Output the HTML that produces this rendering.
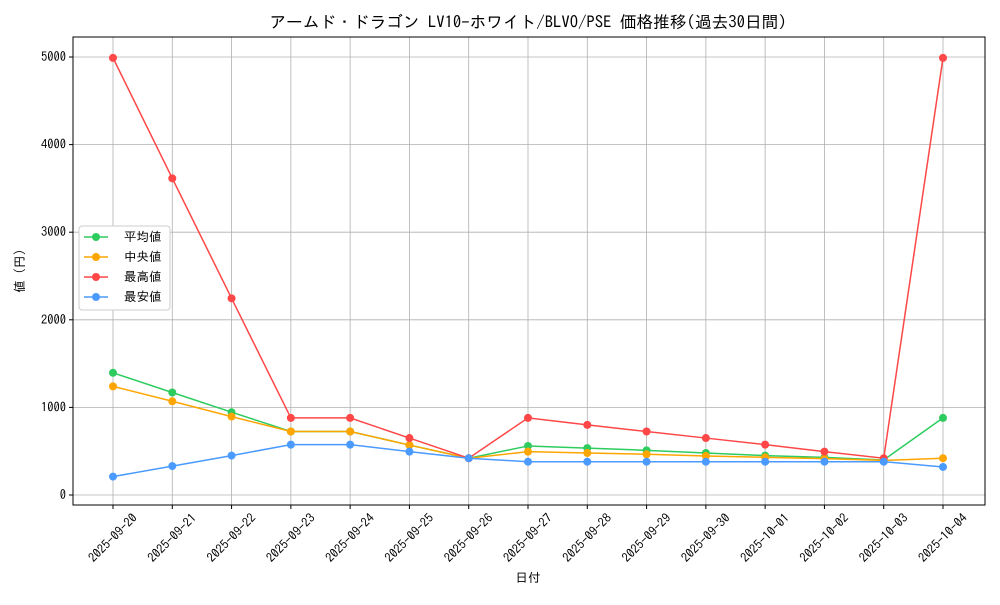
<!DOCTYPE html>
<html><head><meta charset="utf-8"><style>
body{margin:0;background:#fff;}
svg text{font-family:"IPAGothic","Liberation Sans","Noto Sans CJK JP",sans-serif;fill:#000;}
</style></head><body>
<svg width="1000" height="600" xmlns="http://www.w3.org/2000/svg">
<rect width="1000" height="600" fill="#fff"/>
<text x="528" y="28" font-size="16.7" text-anchor="middle">アームド・ドラゴン LV10-ホワイト/BLVO/PSE 価格推移(過去30日間)</text>
<g id="grid" stroke="#b0b0b0" stroke-width="0.8"></g>
<rect x="73" y="37" width="912" height="468" fill="none" stroke="#000" stroke-width="1"/>
<g id="ticks"></g>
<g id="series"></g>
<text x="528" y="582" font-size="12.5" text-anchor="middle">日付</text>
<text x="24" y="271" font-size="12.5" text-anchor="middle" transform="rotate(-90 24 271)">値 (円)</text>
<g>
<rect x="79" y="226" width="91" height="84" fill="#fff" stroke="#ccc" rx="3"/>
<line x1="84" y1="237" x2="108" y2="237" stroke="#2ecc5f" stroke-width="1.5"/><circle cx="96" cy="237" r="4" fill="#2ecc5f"/><text x="124" y="241" font-size="12.5">平均値</text>
<line x1="84" y1="257" x2="108" y2="257" stroke="#ffa500" stroke-width="1.5"/><circle cx="96" cy="257" r="4" fill="#ffa500"/><text x="124" y="261" font-size="12.5">中央値</text>
<line x1="84" y1="277" x2="108" y2="277" stroke="#ff4747" stroke-width="1.5"/><circle cx="96" cy="277" r="4" fill="#ff4747"/><text x="124" y="281" font-size="12.5">最高値</text>
<line x1="84" y1="297" x2="108" y2="297" stroke="#4a9aff" stroke-width="1.5"/><circle cx="96" cy="297" r="4" fill="#4a9aff"/><text x="124" y="301" font-size="12.5">最安値</text>
</g>
</svg>
<script>
const ns="http://www.w3.org/2000/svg";
const X=i=>113+i*59.2857, Y=v=>495-v*0.0876;
const dates=["2025-09-20","2025-09-21","2025-09-22","2025-09-23","2025-09-24","2025-09-25","2025-09-26","2025-09-27","2025-09-28","2025-09-29","2025-09-30","2025-10-01","2025-10-02","2025-10-03","2025-10-04"];
const g=document.getElementById("grid"),t=document.getElementById("ticks"),s=document.getElementById("series");
function el(p,n,a,txt){const e=document.createElementNS(ns,n);for(const k in a)e.setAttribute(k,a[k]);if(txt)e.textContent=txt;p.appendChild(e);return e;}
dates.forEach((d,i)=>{const x=X(i);el(g,"line",{x1:x,x2:x,y1:37,y2:505});el(t,"line",{x1:x,x2:x,y1:505,y2:509,stroke:"#000"});
el(t,"text",{x:x,y:542,"font-size":12.5,"text-anchor":"middle",transform:`rotate(-45 ${x} 538)`},d);});
for(let v=0;v<=5000;v+=1000){const y=Y(v);el(g,"line",{x1:73,x2:985,y1:y,y2:y});el(t,"line",{x1:69,x2:73,y1:y,y2:y,stroke:"#000"});
el(t,"text",{x:66,y:y+4,"font-size":12.5,"text-anchor":"end"},String(v));}
const data=[
["#2ecc5f",[1395,1170,945,725,725,570,420,560,535,510,480,450,430,400,880]],
["#ffa500",[1240,1070,895,725,725,570,420,495,480,465,445,430,415,395,420]],
["#ff4747",[4990,3615,2245,880,880,650,420,880,800,725,650,575,495,420,4990]],
["#4a9aff",[210,330,450,575,575,495,420,380,380,380,380,380,380,380,320]]];
data.forEach(([c,v])=>{el(s,"polyline",{points:v.map((a,i)=>X(i)+","+Y(a)).join(" "),fill:"none",stroke:c,"stroke-width":1.5});
v.forEach((a,i)=>el(s,"circle",{cx:X(i),cy:Y(a),r:4,fill:c}));});
</script>
</body></html>
